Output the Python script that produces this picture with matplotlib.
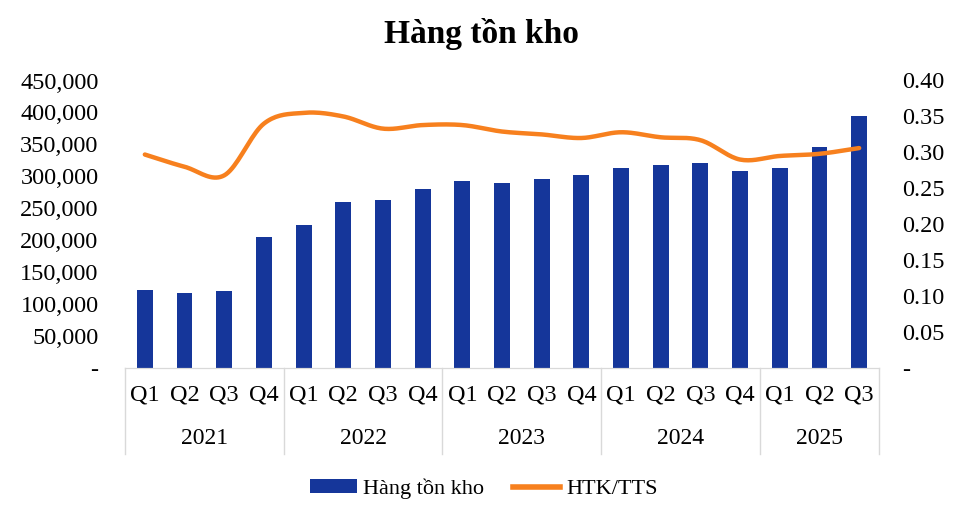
import numpy as np
import matplotlib.pyplot as plt
from matplotlib.patches import Patch
from matplotlib.lines import Line2D
from matplotlib.ticker import FuncFormatter, MultipleLocator

plt.rcParams['font.family'] = ['Liberation Serif', 'DejaVu Serif']

# Dữ liệu
years = ['2021', '2022', '2023', '2024', '2025']
quarters = ['Q1', 'Q2', 'Q3', 'Q4'] * 4 + ['Q1', 'Q2', 'Q3']
htk = [122000, 118000, 120000, 205000,
       224500, 260000, 263500, 279700,
       293000, 289600, 296400, 301500,
       312500, 317700, 320300, 308900,
       313000, 345800, 393700]
htk_tts = [0.297, 0.280, 0.268, 0.340,
           0.355, 0.350, 0.333, 0.338,
           0.338, 0.329, 0.325, 0.320,
           0.328, 0.321, 0.317, 0.290,
           0.295, 0.298, 0.306]

BLUE = '#15369A'
ORANGE = '#F7801E'


def smooth(x, y, n=20):
    # duong cong kieu Catmull-Rom (giong "smoothed line" cua Excel)
    x = np.asarray(x, float)
    y = np.asarray(y, float)
    px = np.concatenate([[2 * x[0] - x[1]], x, [2 * x[-1] - x[-2]]])
    py = np.concatenate([[2 * y[0] - y[1]], y, [2 * y[-1] - y[-2]]])
    xs, ys = [], []
    t = np.linspace(0, 1, n, endpoint=False)
    for i in range(1, len(px) - 2):
        for p, out in ((px, xs), (py, ys)):
            p0, p1, p2, p3 = p[i - 1], p[i], p[i + 1], p[i + 2]
            out.extend(0.5 * (2 * p1 + (-p0 + p2) * t
                              + (2 * p0 - 5 * p1 + 4 * p2 - p3) * t ** 2
                              + (-p0 + 3 * p1 - 3 * p2 + p3) * t ** 3))
    xs.append(x[-1])
    ys.append(y[-1])
    return np.array(xs), np.array(ys)


fig = plt.figure(figsize=(9.68, 5.16), dpi=100)
ax = fig.add_axes([125 / 968, 148 / 516, 754 / 968, 287.5 / 516])
ax2 = ax.twinx()

x = np.arange(len(htk))
ax.bar(x, htk, width=0.4, color=BLUE, zorder=2)
sx, sy = smooth(x, htk_tts)
ax2.plot(sx, sy, color=ORANGE, lw=3.2, solid_capstyle='round', zorder=3)

ax.set_xlim(-0.5, len(htk) - 0.5)
ax.set_ylim(0, 450000)
ax2.set_ylim(0, 0.40)
ax.yaxis.set_major_locator(MultipleLocator(50000))
ax2.yaxis.set_major_locator(MultipleLocator(0.05))
ax.yaxis.set_major_formatter(FuncFormatter(lambda v, p: '-' if v == 0 else f'{v:,.0f}'))
ax2.yaxis.set_major_formatter(FuncFormatter(lambda v, p: '-' if v == 0 else f'{v:.2f}'))

for a in (ax, ax2):
    for s in ('top', 'left', 'right'):
        a.spines[s].set_visible(False)
    a.spines['bottom'].set_color('#d9d9d9')
    a.tick_params(axis='y', length=0, labelsize=17.5)
ax.tick_params(axis='y', pad=19)
ax2.tick_params(axis='y', pad=17)
ax.set_xticks([])
ax2.set_xticks([])

# nhan quy va nam
for i, q in enumerate(quarters):
    ax.text(i, -0.095, q, transform=ax.get_xaxis_transform(), ha='center',
            va='center', fontsize=17.5)
starts = [0, 4, 8, 12, 16, 19]
for k, yr in enumerate(years):
    mid = (starts[k] + starts[k + 1] - 1) / 2
    ax.text(mid, -0.245, yr, transform=ax.get_xaxis_transform(), ha='center',
            va='center', fontsize=17)
for b in starts:
    ax.plot([b - 0.5, b - 0.5], [0, -0.30], transform=ax.get_xaxis_transform(),
            color='#d9d9d9', lw=1, clip_on=False)

fig.text(0.497, 0.935, 'Hàng tồn kho', ha='center', va='center',
         fontsize=24, fontweight='bold')

handles = [Patch(facecolor=BLUE), Line2D([0], [0], color=ORANGE, lw=4)]
fig.legend(handles, ['Hàng tồn kho', 'HTK/TTS'], loc='center',
           bbox_to_anchor=(0.5, 0.053), ncol=2, frameon=False, fontsize=16,
           handlelength=2.1, handleheight=0.55, handletextpad=0.3,
           columnspacing=1.3)

fig.savefig('out.png', dpi=100)
